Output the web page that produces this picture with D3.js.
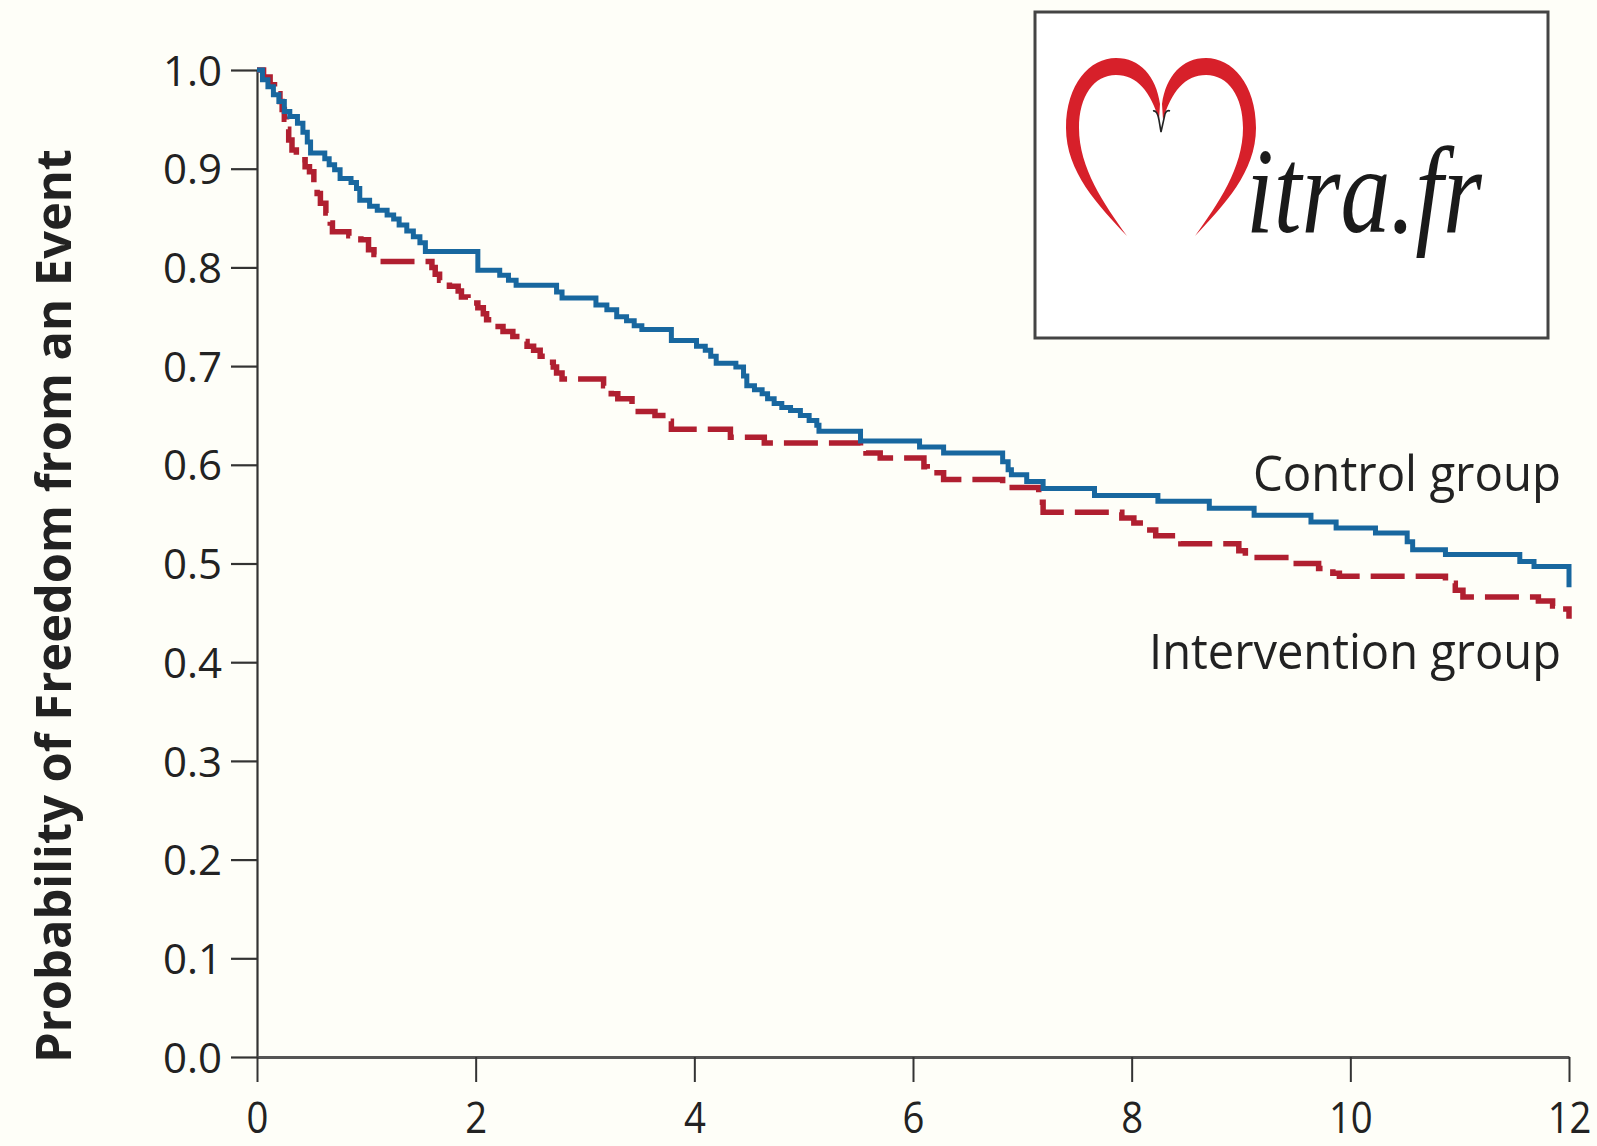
<!DOCTYPE html>
<html>
<head>
<meta charset="utf-8">
<script src="https://cdn.jsdelivr.net/npm/d3@7"></script>
<style>
  html, body { margin: 0; padding: 0; background: #fefef8; }
  svg { display: block; }
</style>
</head>
<body>
<svg id="chart" width="1597" height="1146"></svg>
<script>
// Kaplan–Meier estimates: event time (years) and survival after the step
const controlTimes = [0, 0.05, 0.10, 0.15, 0.20, 0.25, 0.30, 0.37, 0.42, 0.46, 0.49, 0.62, 0.66, 0.71, 0.76, 0.86, 0.91, 0.94,
  1.03, 1.10, 1.19, 1.25, 1.30, 1.37, 1.43, 1.49, 1.54, 2.02, 2.22, 2.30, 2.37, 2.74, 2.79, 3.10, 3.20, 3.29, 3.38, 3.45,
  3.52, 3.79, 4.02, 4.10, 4.15, 4.20, 4.38, 4.45, 4.48, 4.55, 4.62, 4.67, 4.73, 4.80, 4.88, 4.97, 5.05, 5.12, 5.14, 5.52,
  6.06, 6.28, 6.82, 6.87, 6.90, 7.04, 7.19, 7.66, 8.24, 8.71, 9.12, 9.64, 9.87, 10.23, 10.52, 10.57, 10.87, 11.55, 11.68, 12.0];
const controlSurv = [1.0, 0.990, 0.983, 0.975, 0.968, 0.958, 0.953, 0.946, 0.937, 0.927, 0.916, 0.910, 0.904, 0.899, 0.890, 0.886, 0.880, 0.868,
  0.862, 0.858, 0.853, 0.849, 0.843, 0.837, 0.831, 0.825, 0.816, 0.797, 0.792, 0.787, 0.782, 0.775, 0.769, 0.762, 0.757, 0.750, 0.746, 0.741,
  0.737, 0.726, 0.720, 0.716, 0.710, 0.703, 0.699, 0.690, 0.680, 0.676, 0.672, 0.667, 0.662, 0.658, 0.655, 0.650, 0.645, 0.640, 0.634, 0.624,
  0.618, 0.612, 0.603, 0.595, 0.590, 0.583, 0.576, 0.569, 0.563, 0.556, 0.549, 0.542, 0.536, 0.531, 0.522, 0.514, 0.509, 0.502, 0.497, 0.476];

const interventionTimes = [0, 0.06, 0.12, 0.16, 0.21, 0.23, 0.25, 0.27, 0.29, 0.32, 0.36, 0.44, 0.48, 0.52, 0.55, 0.58, 0.63, 0.67, 0.69,
  0.84, 0.95, 1.02, 1.07, 1.11, 1.60, 1.63, 1.67, 1.76, 1.84, 1.87, 1.93, 2.02, 2.07, 2.10, 2.16, 2.25, 2.34, 2.41, 2.47, 2.53,
  2.59, 2.65, 2.71, 2.74, 2.79, 3.17, 3.24, 3.30, 3.43, 3.64, 3.76, 3.79, 4.33, 4.64, 5.52, 5.57, 5.70, 6.10, 6.13, 6.28, 6.82,
  7.15, 7.19, 7.91, 8.02, 8.11, 8.22, 8.45, 8.98, 9.04, 9.41, 9.71, 9.84, 9.90, 10.87, 10.96, 11.03, 11.72, 11.85, 11.92, 12.0];
const interventionSurv = [1.0, 0.993, 0.985, 0.976, 0.968, 0.960, 0.950, 0.940, 0.929, 0.919, 0.909, 0.902, 0.897, 0.885, 0.875, 0.865, 0.855, 0.845, 0.836,
  0.832, 0.828, 0.818, 0.813, 0.806, 0.800, 0.793, 0.787, 0.781, 0.776, 0.770, 0.764, 0.759, 0.753, 0.747, 0.740, 0.735, 0.730, 0.725, 0.720, 0.716,
  0.710, 0.704, 0.699, 0.693, 0.687, 0.680, 0.672, 0.667, 0.654, 0.650, 0.644, 0.636, 0.628, 0.622, 0.617, 0.612, 0.607, 0.598, 0.592, 0.585, 0.577,
  0.562, 0.552, 0.546, 0.541, 0.534, 0.528, 0.520, 0.513, 0.506, 0.500, 0.495, 0.490, 0.487, 0.480, 0.473, 0.466, 0.462, 0.457, 0.454, 0.444];

const xTicks = [0, 2, 4, 6, 8, 10, 12];
const yTicks = [0, 0.1, 0.2, 0.3, 0.4, 0.5, 0.6, 0.7, 0.8, 0.9, 1.0];
const yTitle = "Probability of Freedom from an Event";
const seriesNames = ["Control group", "Intervention group"];
const logoText = "itra.fr";

const svg = d3.select("#chart");
const x = d3.scaleLinear().domain([0, 12]).range([257, 1569]);
const y = d3.scaleLinear().domain([0, 1]).range([1057, 70]);

const ink = "#222";
const font = "'Open Sans', 'Noto Sans', sans-serif";

// ---- Logo panel ----
const logo = svg.append("g");
logo.append("rect")
  .attr("x", 1035).attr("y", 12).attr("width", 513).attr("height", 326)
  .attr("fill", "#ffffff").attr("stroke", "#444").attr("stroke-width", 3);

// open ribbon heart (left lobe, right lobe mirrored about x = 1160)
const leftLobe = "M1127,236 C1098,205 1066,172 1066,128 C1066,84 1090,58 1116,58 " +
  "C1140,58 1156,76 1160,104 L1159,120 C1151,92 1137,75 1116,75 " +
  "C1094,75 1079,96 1079,128 C1079,168 1104,204 1127,236 Z";
logo.append("path").attr("d", leftLobe).attr("fill", "#d7202a");
logo.append("path").attr("d", leftLobe).attr("fill", "#d7202a")
  .attr("transform", "translate(2322,0) scale(-1,1)");
logo.append("path")
  .attr("d", "M1153,111 C1156,110 1158,114 1159,120 L1161,132 L1165,114 C1166,111 1168,110 1170,111")
  .attr("fill", "none").attr("stroke", "#222").attr("stroke-width", 1.6);
logo.append("text")
  .attr("x", 1246).attr("y", 232)
  .attr("font-family", "'Liberation Serif', 'DejaVu Serif', serif")
  .attr("font-style", "italic")
  .attr("font-size", 122)
  .attr("fill", "#1a1a1a")
  .attr("textLength", 236).attr("lengthAdjust", "spacingAndGlyphs")
  .text(logoText);

// ---- Axes ----
const yAxis = svg.append("g")
  .attr("transform", `translate(${x(0)},0)`)
  .call(d3.axisLeft(y).tickValues(yTicks).tickSize(26).tickSizeOuter(0).tickPadding(9).tickFormat(d3.format(".1f")));
yAxis.select(".domain").attr("stroke", "#333").attr("stroke-width", 2.2);
yAxis.selectAll(".tick line").attr("stroke", "#333").attr("stroke-width", 2.2);
yAxis.selectAll(".tick text")
  .attr("font-family", font).attr("font-size", 42).attr("fill", ink)
  .attr("dy", "0.36em");

const xAxis = svg.append("g")
  .attr("transform", `translate(0,${y(0)})`)
  .call(d3.axisBottom(x).tickValues(xTicks).tickSize(25).tickSizeOuter(0).tickPadding(20));
xAxis.select(".domain").attr("stroke", "#555").attr("stroke-width", 3);
xAxis.selectAll(".tick line").attr("stroke", "#333").attr("stroke-width", 2);
xAxis.selectAll(".tick text")
  .attr("font-family", font).attr("font-size", 44).attr("fill", ink)
  .attr("transform", "scale(0.87,1)");

// rotated y-axis title
svg.append("text")
  .attr("transform", "translate(71,606) rotate(-90)")
  .attr("text-anchor", "middle")
  .attr("font-family", font).attr("font-weight", 700).attr("font-size", 49)
  .attr("fill", ink)
  .attr("textLength", 914).attr("lengthAdjust", "spacingAndGlyphs")
  .text(yTitle);

// ---- Survival curves ----
const step = d3.line()
  .x(d => x(d[0]))
  .y(d => y(d[1]))
  .curve(d3.curveStepAfter);

const interventionPts = interventionTimes.map((t, i) => [t, interventionSurv[i]]);
const controlPts = controlTimes.map((t, i) => [t, controlSurv[i]]);

svg.append("path")
  .datum(interventionPts)
  .attr("d", step)
  .attr("fill", "none")
  .attr("stroke", "#b01f30")
  .attr("stroke-width", 5.5)
  .attr("stroke-dasharray", "34,11");

svg.append("path")
  .datum(controlPts)
  .attr("d", step)
  .attr("fill", "none")
  .attr("stroke", "#18679f")
  .attr("stroke-width", 5);

// ---- Series labels (right-aligned at the end of the curves) ----
svg.append("text")
  .attr("x", 1561).attr("y", 491)
  .attr("text-anchor", "end")
  .attr("font-family", font).attr("font-size", 50).attr("fill", ink)
  .attr("textLength", 308).attr("lengthAdjust", "spacingAndGlyphs")
  .text(seriesNames[0]);
svg.append("text")
  .attr("x", 1561).attr("y", 669)
  .attr("text-anchor", "end")
  .attr("font-family", font).attr("font-size", 50).attr("fill", ink)
  .attr("textLength", 412).attr("lengthAdjust", "spacingAndGlyphs")
  .text(seriesNames[1]);
</script>
</body>
</html>
